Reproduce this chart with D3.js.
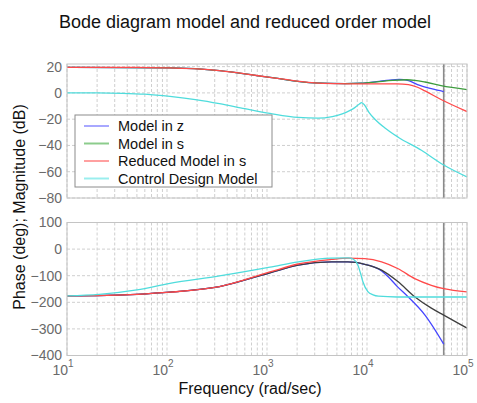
<!DOCTYPE html>
<html>
<head>
<meta charset="utf-8">
<script src="https://cdn.jsdelivr.net/npm/d3@7"></script>
<style>
  body { margin: 0; background: #fff; }
  svg { font-family: "Liberation Sans", Arial, Helvetica, sans-serif; }
  .tick text { fill: #6a6a6a; }
</style>
</head>
<body>
<svg width="477" height="403"></svg>
<script>
// chart values
const seriesNames = ['Model in z', 'Model in s', 'Reduced Model in s', 'Control Design Model']
const magTicks = [20, 0, -20, -40, -60, -80]
const phaseTicks = [100, 0, -100, -200, -300, -400]
const freqTicks = [1e1, 1e2, 1e3, 1e4, 1e5]
const nyquist = 5.85e4

// magnitude, dB  [frequency rad/s, value]
const magModelZ = [[10,19.5],[107,19],[335,17],[1070,11.8],[3000,7.6],[6000,7.1],[8800,7.4],[12500,8.6],[17000,9.8],[21000,10.3],[26000,9.4],[32000,6.3],[45000,3],[58500,1]]
const magModelS = [[10,19.5],[107,19],[335,17],[1070,11.8],[3000,7.6],[6000,7.1],[8800,7.4],[12500,8.4],[18000,9.5],[25000,10],[30000,9.6],[38000,8.3],[55000,5.5],[100000,2.5]]
const magReduced = [[10,19.5],[50,19.5],[107,19],[200,18.3],[335,17],[600,14.5],[1070,11.8],[2000,9],[3000,7.6],[5000,7],[8800,6.8],[15000,6.8],[20000,6.9],[26000,6.3],[32000,4.3],[38000,1.5],[55000,-5],[100000,-14.2]]
const magControl = [[10,0],[20,0],[36,-0.3],[60,-1],[107,-2.7],[200,-5.3],[335,-8.2],[600,-12],[1070,-15.6],[2050,-18.7],[3240,-19.2],[4500,-18],[5560,-16.2],[6700,-13.5],[7550,-11.2],[8400,-8.5],[8800,-7.4],[9400,-9],[10500,-15],[12000,-20],[15000,-26.5],[20500,-33.7],[35000,-43.7],[58500,-54.9],[100000,-64]]

// phase, deg
const phaseModelZ = [[10,-176],[20,-175],[50,-170],[107,-162],[335,-141],[1070,-89],[2050,-60],[4400,-48],[6450,-48],[9500,-57],[14000,-82],[16300,-104],[20000,-140],[25700,-179],[38000,-248],[58500,-357]]
const phaseModelS = [[10,-176],[20,-175],[50,-170],[107,-162],[335,-141],[1070,-89],[2050,-60],[4400,-48],[6450,-48],[9500,-57],[14000,-79],[20500,-123],[30000,-179],[44000,-222],[58500,-248],[100000,-297]]
const phaseReduced = [[10,-176],[20,-175],[50,-170],[107,-162],[335,-141],[1070,-86],[2050,-56],[4400,-39],[6450,-34],[9500,-36],[14000,-48],[20500,-74],[30000,-111],[44000,-136],[58500,-149],[100000,-161]]
const phaseControl = [[10,-176],[21,-170],[50,-153],[107,-129],[335,-101],[1070,-68],[2050,-48],[4400,-34],[6450,-33],[7300,-38],[8100,-60],[8600,-90],[9100,-123],[10200,-160],[11500,-172],[13000,-177],[20000,-180],[100000,-180]]

const colors = ['#4646ff', '#3f3f3f', '#ff4a4a', '#4fdcdc']
const magColors = ['#4646ff', '#3d9c3d', '#ff4a4a', '#4fdcdc']
const legendColors = ['#a8a8ff', '#8ccc8c', '#ffa0a0', '#9aeeee']

let svg = d3.select('svg')
let left = 67, right = 467
let x = d3.scaleLog().domain([10, 1e5]).range([left, right])
let yMag = d3.scaleLinear().domain([-80, 22]).range([198, 64])
let yPh = d3.scaleLinear().domain([-400, 100]).range([355.5, 222.5])

// title
svg.append('text')
    .attr('x', 245).attr('y', 28)
    .attr('text-anchor', 'middle')
    .attr('font-size', 18)
    .attr('fill', '#111')
    .text('Bode diagram model and reduced order model')

function panel(y, ticks, lines, lineColors, id) {
    let top = y.range()[1], bottom = y.range()[0]
    let g = svg.append('g')
    g.append('clipPath').attr('id', id)
        .append('rect').attr('x', left).attr('y', top).attr('width', right - left).attr('height', bottom - top)
    // grid
    g.selectAll('.xg').data(x.ticks()).enter().append('line')
        .attr('x1', d => x(d)).attr('x2', d => x(d))
        .attr('y1', top).attr('y2', bottom)
        .attr('stroke', '#cfcfcf').attr('stroke-dasharray', '3,2')
    g.selectAll('.yg').data(ticks).enter().append('line')
        .attr('x1', left).attr('x2', right)
        .attr('y1', d => y(d)).attr('y2', d => y(d))
        .attr('stroke', '#cfcfcf').attr('stroke-dasharray', '3,2')
    // y axis labels
    g.append('g')
        .attr('transform', 'translate(' + left + ',0)')
        .call(d3.axisLeft(y).tickValues(ticks).tickSize(0).tickPadding(5).tickFormat(d3.format('')))
        .call(a => a.select('.domain').remove())
        .selectAll('text').attr('font-size', 14).attr('font-family', null)
    // nyquist line
    g.append('line')
        .attr('x1', x(nyquist)).attr('x2', x(nyquist))
        .attr('y1', top).attr('y2', bottom)
        .attr('stroke', '#8a8a8a').attr('stroke-width', 1.6)
    // curves
    let line = d3.line().x(d => x(d[0])).y(d => y(d[1])).curve(d3.curveMonotoneX)
    let pg = g.append('g').attr('clip-path', 'url(#' + id + ')')
    lines.forEach((s, i) => {
        pg.append('path').datum(s)
            .attr('d', line)
            .attr('fill', 'none')
            .attr('stroke', lineColors[i])
            .attr('stroke-width', 1.3)
    })
    // box
    g.append('rect')
        .attr('x', left).attr('y', top)
        .attr('width', right - left).attr('height', bottom - top)
        .attr('fill', 'none').attr('stroke', '#c4c4c4')
}

panel(yMag, magTicks, [magModelZ, magModelS, magReduced, magControl], magColors, 'clipMag')
panel(yPh, phaseTicks, [phaseModelZ, phaseModelS, phaseReduced, phaseControl], colors, 'clipPh')

// x tick labels, 10^n
let xl = svg.append('g')
xl.selectAll('text').data(freqTicks).enter().append('text')
    .attr('x', d => x(d) - 4).attr('y', 375)
    .attr('text-anchor', 'middle')
    .attr('font-size', 14).attr('fill', '#6a6a6a')
    .each(function(d) {
        let t = d3.select(this)
        t.append('tspan').text('10')
        t.append('tspan').attr('dy', -8).attr('font-size', 10).text(Math.round(Math.log10(d)))
    })

// axis titles
svg.append('text')
    .attr('x', 250).attr('y', 394)
    .attr('text-anchor', 'middle')
    .attr('font-size', 16).attr('fill', '#111')
    .text('Frequency (rad/sec)')
svg.append('text')
    .attr('transform', 'translate(25,207) rotate(-90)')
    .attr('text-anchor', 'middle')
    .attr('font-size', 16).attr('fill', '#111')
    .text('Phase (deg); Magnitude (dB)')

// legend
let legend = svg.append('g').attr('transform', 'translate(75,115)')
legend.append('rect')
    .attr('width', 197).attr('height', 72)
    .attr('fill', '#fff').attr('stroke', '#8c8c8c')
let items = legend.selectAll('.item').data(seriesNames).enter().append('g')
    .attr('transform', (d, i) => 'translate(0,' + (11 + i * 17.5) + ')')
items.append('line')
    .attr('x1', 9).attr('x2', 34)
    .attr('stroke', (d, i) => legendColors[i]).attr('stroke-width', 2)
items.append('text')
    .attr('x', 43).attr('dy', '0.35em')
    .attr('font-size', 14.5).attr('fill', '#111')
    .text(d => d)
</script>
</body>
</html>
